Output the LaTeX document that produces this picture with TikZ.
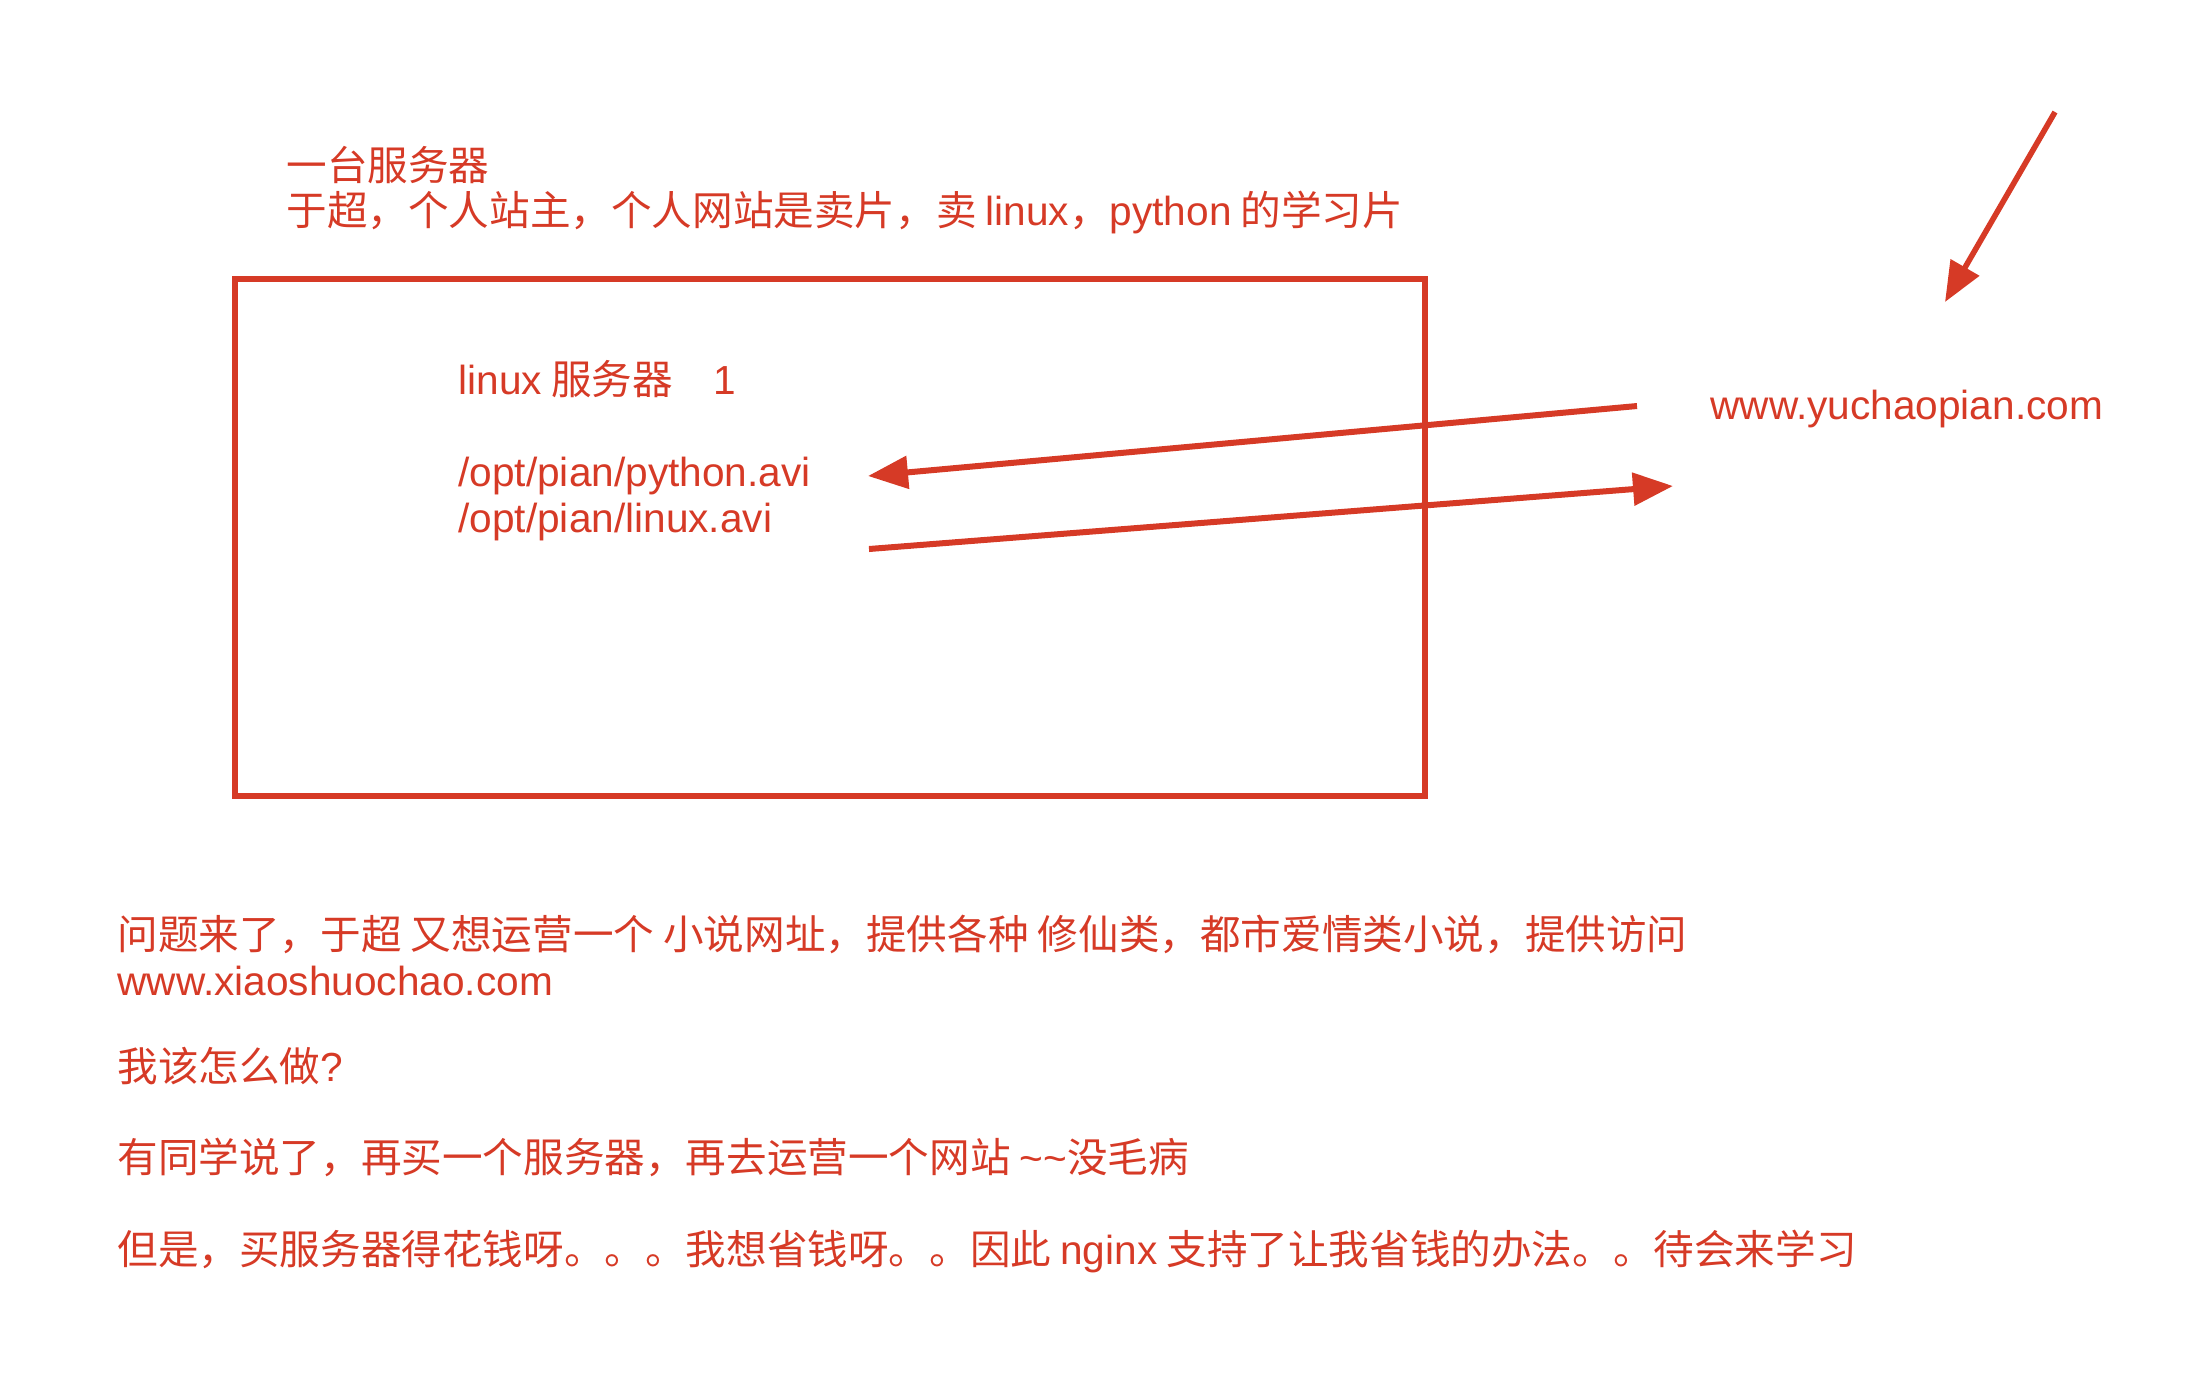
\documentclass[tikz,border=0pt]{standalone}
\usepackage{fontspec}
\setmainfont{Noto Sans CJK SC}
\newfontfamily\latfont{Liberation Sans}
\usetikzlibrary{arrows.meta}
\definecolor{inkred}{RGB}{214,58,38}

\begin{document}
\begin{tikzpicture}[
    x=0.5pt, y=-0.5pt,
    note/.style={anchor=base west, inner sep=0pt, align=left, text=inkred,
                 font=\fontsize{20.3}{23}\selectfont},
    srvbox/.style={draw=inkred, line width=3pt, rectangle, minimum width=595pt,
                   minimum height=258.5pt, inner sep=0pt},
    flow/.style={draw=inkred, line width=3pt, -{Triangle[length=20pt, width=16pt]}}
]
    \useasboundingbox (0,0) rectangle (2190,1378);

    % multi-line nodes sit on the baseline of their last line
    \node[note, font=\fontsize{20.3}{22.5}\selectfont] (title) at (286,225) {一台服务器\\于超，个人站主，个人网站是卖片，卖 {\latfont linux}，{\latfont python} 的学习片};

    \node[srvbox] (box) at (830,537.5) {};
    \node[note] (srv) at (458,394) {{\latfont linux} 服务器　{\latfont 1}};
    \node[note, font=\fontsize{20.3}{23}\latfont] (files) at (458,532) {/opt/pian/python.avi\\/opt/pian/linux.avi};
    \node[note, font=\fontsize{20.3}{23}\latfont] (site) at (1710,419) {www.yuchaopian.com};

    \coordinate (reqfrom)   at (1637,406);
    \coordinate (reqto)     at (868,476);
    \coordinate (respfrom)  at (869,549);
    \coordinate (respto)    at (1673,486);
    \coordinate (visitfrom) at (2055,112);
    \coordinate (visitto)   at (1945,302);

    \draw[flow] (reqfrom) -- (reqto);
    \draw[flow] (respfrom) -- (respto);
    \draw[flow, line width=2.8pt] (visitfrom) -- (visitto);

    \node[note] (question) at (117,995) {问题来了，于超 又想运营一个 小说网址，提供各种 修仙类，都市爱情类小说，提供访问\\{\latfont www.xiaoshuochao.com}};
    \node[note] (ask) at (117,1081) {我该怎么做{\latfont ?}};
    \node[note] (reply) at (117,1172) {有同学说了，再买一个服务器，再去运营一个网站 {\latfont\textasciitilde\textasciitilde}没毛病};
    \node[note] (answer) at (117,1264) {但是，买服务器得花钱呀。。。我想省钱呀。。因此 {\latfont nginx} 支持了让我省钱的办法。。待会来学习};
\end{tikzpicture}
\end{document}
